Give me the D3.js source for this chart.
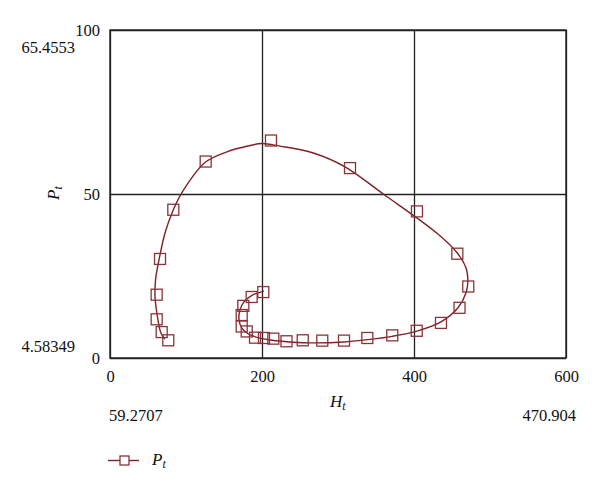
<!DOCTYPE html>
<html>
<head>
<meta charset="utf-8">
<script src="https://cdn.jsdelivr.net/npm/d3@7"></script>
<style>
  body { margin: 0; background: #fff; }
  svg text { font-family: "Liberation Serif", "DejaVu Serif", serif; }
</style>
</head>
<body>
<svg id="chart" width="600" height="491"></svg>
<script>
// ---- Data ----
const xTicks = [0, 200, 400, 600];
const yTicks = [0, 50, 100];

// observed points (markers)
const obsH = [201.7, 186.4, 175.4, 173.3, 173.3, 179.9, 190.8, 202.6, 214.9, 232.2,
              253.6, 279.3, 307.9, 338.6, 371.4, 403.6, 435.5, 459.9, 471.4, 457.0,
              403.9, 315.8, 211.8, 125.9, 83.3, 65.8, 61.4, 61.4, 68.0, 76.7];
const obsP = [20.1, 18.6, 15.9, 13.1, 9.6, 8.1, 6.2, 6.1, 5.9, 5.1,
              5.4, 5.3, 5.3, 6.1, 6.9, 8.3, 10.7, 15.3, 21.8, 31.8,
              44.7, 57.9, 66.3, 59.9, 45.2, 30.2, 19.3, 11.8, 7.9, 5.4];

// fitted trajectory (curve)
const curveH = [202.6, 186.8, 176.3, 171.1, 169.7, 173.3, 181.6, 194.7, 213.2, 236.8,
                270.0, 307.9, 338.2, 371.1, 403.9, 435.5, 457.9, 468.4, 470.9, 468.4,
                457.0, 429.9, 359.6, 309.2, 267.5, 223.7, 199.6,
                177.6, 155.7, 125.0, 94.3, 83.3, 72.4, 63.6, 60.0, 59.3,
                62.5, 67.0, 72.0];
const curveP = [20.4, 19.1, 17.1, 14.7, 11.7, 9.2, 7.4, 6.2, 5.4, 4.9,
                4.6, 4.9, 5.6, 6.6, 8.2, 11.0, 15.3, 19.9, 23.9, 27.5,
                32.0, 38.1, 50.0, 58.3, 62.5, 64.6, 65.4,
                64.4, 63.0, 59.6, 50.3, 45.2, 38.1, 28.9, 24.0, 18.5,
                12.5, 7.6, 5.8];

// range labels
const rangeP = [4.58349, 65.4553];
const rangeH = [59.2707, 470.904];

const lineColor = "#7d2126";
const markColor = "#8a3439";

// ---- Layout ----
const svg = d3.select("#chart");
const mLeft = 110, mRight = 566, mTop = 30, mBottom = 358;
const x = d3.scaleLinear().domain([0, 600]).range([mLeft, mRight]);
const y = d3.scaleLinear().domain([0, 100]).range([mBottom, mTop]);
const fs = 16.5;

// grid via axes
const gx = svg.append("g").attr("transform", `translate(0,${mBottom})`)
  .call(d3.axisBottom(x).tickValues(xTicks).tickSizeInner(-(mBottom - mTop)).tickSizeOuter(0).tickPadding(12));
gx.select(".domain").remove();
gx.selectAll(".tick line").attr("stroke", "#222").attr("stroke-width", 1.3);
gx.selectAll(".tick text").attr("font-size", fs).attr("fill", "#111")
  .attr("font-family", "Liberation Serif, serif");

const gy = svg.append("g").attr("transform", `translate(${mLeft},0)`)
  .call(d3.axisLeft(y).tickValues(yTicks).tickSizeInner(-(mRight - mLeft)).tickSizeOuter(0).tickPadding(10));
gy.select(".domain").remove();
gy.selectAll(".tick line").attr("stroke", "#222").attr("stroke-width", 1.3);
gy.selectAll(".tick text").attr("font-size", fs).attr("fill", "#111")
  .attr("font-family", "Liberation Serif, serif");

// border
svg.append("rect").attr("x", mLeft).attr("y", mTop)
  .attr("width", mRight - mLeft).attr("height", mBottom - mTop)
  .attr("fill", "none").attr("stroke", "#222").attr("stroke-width", 1.4);

// curve
const curveData = curveH.map((h, i) => [h, curveP[i]]);
svg.append("path").datum(curveData)
  .attr("fill", "none").attr("stroke", lineColor).attr("stroke-width", 1.4)
  .attr("d", d3.line().x(d => x(d[0])).y(d => y(d[1])).curve(d3.curveCatmullRom.alpha(0.5)));

// markers
const ms = 11;
const obs = obsH.map((h, i) => [h, obsP[i]]);
svg.append("g").selectAll("rect").data(obs).join("rect")
  .attr("x", d => x(d[0]) - ms / 2).attr("y", d => y(d[1]) - ms / 2)
  .attr("width", ms).attr("height", ms)
  .attr("fill", "none").attr("stroke", markColor).attr("stroke-width", 1.3);

// range labels
svg.append("text").attr("x", 75).attr("y", 53).attr("text-anchor", "end")
  .attr("font-size", fs).attr("fill", "#111").text(rangeP[1]);
svg.append("text").attr("x", 75).attr("y", 352).attr("text-anchor", "end")
  .attr("font-size", fs).attr("fill", "#111").text(rangeP[0]);
svg.append("text").attr("x", mLeft - 1).attr("y", 421).attr("text-anchor", "start")
  .attr("font-size", fs).attr("fill", "#111").text(rangeH[0]);
svg.append("text").attr("x", 576).attr("y", 421).attr("text-anchor", "end")
  .attr("font-size", fs).attr("fill", "#111").text(rangeH[1]);

// axis titles
const xt = svg.append("text").attr("x", x(300) - 8).attr("y", 407)
  .attr("font-size", 17).attr("font-style", "italic").attr("fill", "#111");
xt.append("tspan").text("H");
xt.append("tspan").attr("font-size", 12).attr("dy", 3).text("t");

const yt = svg.append("text").attr("transform", `translate(59,${y(50) + 6}) rotate(-90)`)
  .attr("font-size", 17).attr("font-style", "italic").attr("fill", "#111");
yt.append("tspan").text("P");
yt.append("tspan").attr("font-size", 12).attr("dy", 3).text("t");

// legend
const lg = svg.append("g");
lg.append("line").attr("x1", 108).attr("x2", 139).attr("y1", 460.5).attr("y2", 460.5)
  .attr("stroke", lineColor).attr("stroke-width", 1.4);
lg.append("rect").attr("x", 124.5 - 4.5).attr("y", 460.5 - 4.5).attr("width", 9).attr("height", 9)
  .attr("fill", "#fff").attr("stroke", markColor).attr("stroke-width", 1.3);
const lt = lg.append("text").attr("x", 152).attr("y", 465)
  .attr("font-size", 17).attr("font-style", "italic").attr("fill", "#111");
lt.append("tspan").text("P");
lt.append("tspan").attr("font-size", 12).attr("dy", 3).text("t");
</script>
</body>
</html>
